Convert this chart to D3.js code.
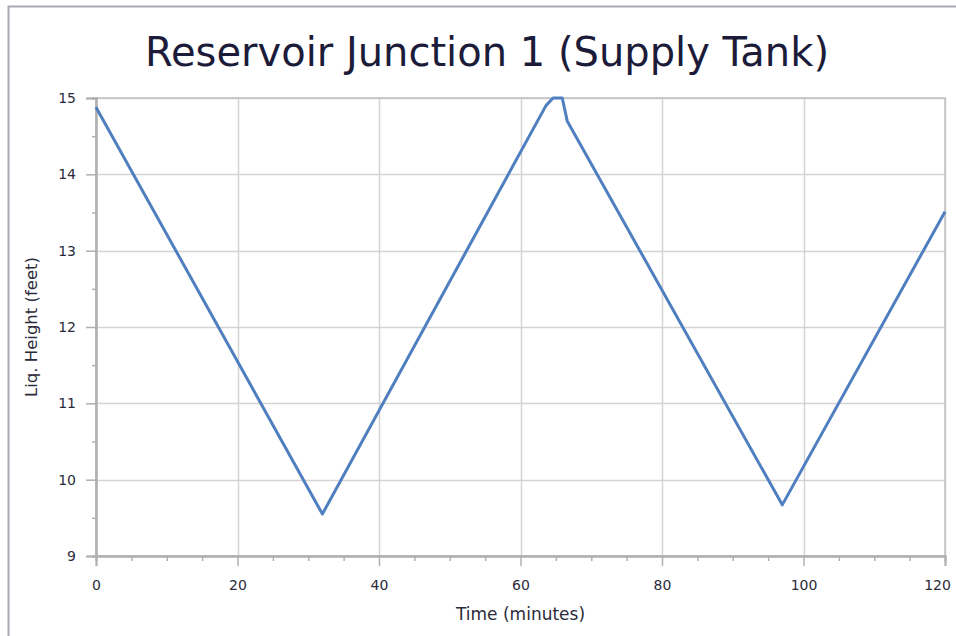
<!DOCTYPE html>
<html><head><meta charset="utf-8">
<script src="https://cdn.jsdelivr.net/npm/d3@7"></script>
<style>body{margin:0;background:#fff}svg{display:block}</style>
</head><body>
<svg id="c" width="956" height="636"></svg>
<script>
const title = "Reservoir Junction 1 (Supply Tank)";
const xLabel = "Time (minutes)";
const yLabel = "Liq. Height (feet)";
const timeMin = [0, 32, 63.6, 64.6, 65.9, 66.6, 97, 120];
const height = [14.88, 9.55, 14.9, 15.0, 15.0, 14.7, 9.67, 13.51];
const xTicks = [0, 20, 40, 60, 80, 100, 120];
const yTicks = [9, 10, 11, 12, 13, 14, 15];

const svg = d3.select("#c");
const L = 96, R = 945, T = 98, B = 556;
const x = d3.scaleLinear().domain([0, 120]).range([L, R]);
const y = d3.scaleLinear().domain([9, 15]).range([B, T]);

// outer frame
svg.append("path").attr("d", "M8.5,636 V6.5 H956").attr("fill", "none")
  .attr("stroke", "#a7a9b3").attr("stroke-width", 2);

// title
svg.append("text").attr("x", 487).attr("y", 66).attr("text-anchor", "middle")
  .attr("font-family", "DejaVu Sans, Verdana, sans-serif").attr("font-size", 40)
  .attr("fill", "#1c1c3a").text(title);

// grid
const g = svg.append("g");
g.selectAll(".gx").data(xTicks).join("line")
  .attr("x1", d => Math.round(x(d)) + 0.5).attr("x2", d => Math.round(x(d)) + 0.5)
  .attr("y1", T).attr("y2", B).attr("stroke", "#d4d4d4").attr("stroke-width", 1.5);
g.selectAll(".gy").data(yTicks).join("line")
  .attr("y1", d => Math.round(y(d)) + 0.5).attr("y2", d => Math.round(y(d)) + 0.5)
  .attr("x1", L).attr("x2", R).attr("stroke", "#d4d4d4").attr("stroke-width", 1.5);

// plot border
svg.append("rect").attr("x", L).attr("y", T).attr("width", R - L).attr("height", B - T)
  .attr("fill", "none").attr("stroke", "#c0c0c0").attr("stroke-width", 1.5);

// axes
const axCol = "#b0b0b0";
const xAxis = svg.append("g").attr("transform", `translate(0,${B})`)
  .call(d3.axisBottom(x).tickValues(xTicks).tickSize(10).tickPadding(14).tickFormat(d3.format("d")));
const xMinor = svg.append("g").attr("transform", `translate(0,${B})`)
  .call(d3.axisBottom(x).tickValues(d3.range(0, 121, 5).filter(v => v % 20 !== 0)).tickSize(5).tickFormat(""));
const yAxis = svg.append("g").attr("transform", `translate(${L},0)`)
  .call(d3.axisLeft(y).tickValues(yTicks).tickSize(10).tickPadding(10).tickFormat(d3.format("d")));
const yMinor = svg.append("g").attr("transform", `translate(${L},0)`)
  .call(d3.axisLeft(y).tickValues(d3.range(9.5, 15, 1)).tickSize(4).tickFormat(""));
[xAxis, xMinor, yAxis, yMinor].forEach(a => {
  a.selectAll("path.domain").attr("stroke", axCol).attr("stroke-width", 2);
  a.selectAll(".tick line").attr("stroke", axCol).attr("stroke-width", 1.5);
  a.selectAll("text").attr("font-family", "DejaVu Sans, Tahoma, sans-serif")
    .attr("font-size", 14).attr("fill", "#2b2b3b");
});
xAxis.selectAll(".tick text").filter(d => d === 120).attr("dx", -8);

// line
svg.append("path").datum(timeMin.map((t, i) => [t, height[i]]))
  .attr("fill", "none").attr("stroke", "#4f7fbf").attr("stroke-width", 3)
  .attr("stroke-linejoin", "round")
  .attr("d", d3.line().x(d => x(d[0])).y(d => y(d[1])));

// axis labels
svg.append("text").attr("x", (L + R) / 2).attr("y", 620).attr("text-anchor", "middle")
  .attr("font-family", "DejaVu Sans, Tahoma, sans-serif").attr("font-size", 17)
  .attr("fill", "#2b2b3b").text(xLabel);
svg.append("text").attr("transform", `translate(37,${(T + B) / 2}) rotate(-90)`)
  .attr("text-anchor", "middle")
  .attr("font-family", "DejaVu Sans, Tahoma, sans-serif").attr("font-size", 16.5)
  .attr("fill", "#2b2b3b").text(yLabel);
</script>
</body></html>
